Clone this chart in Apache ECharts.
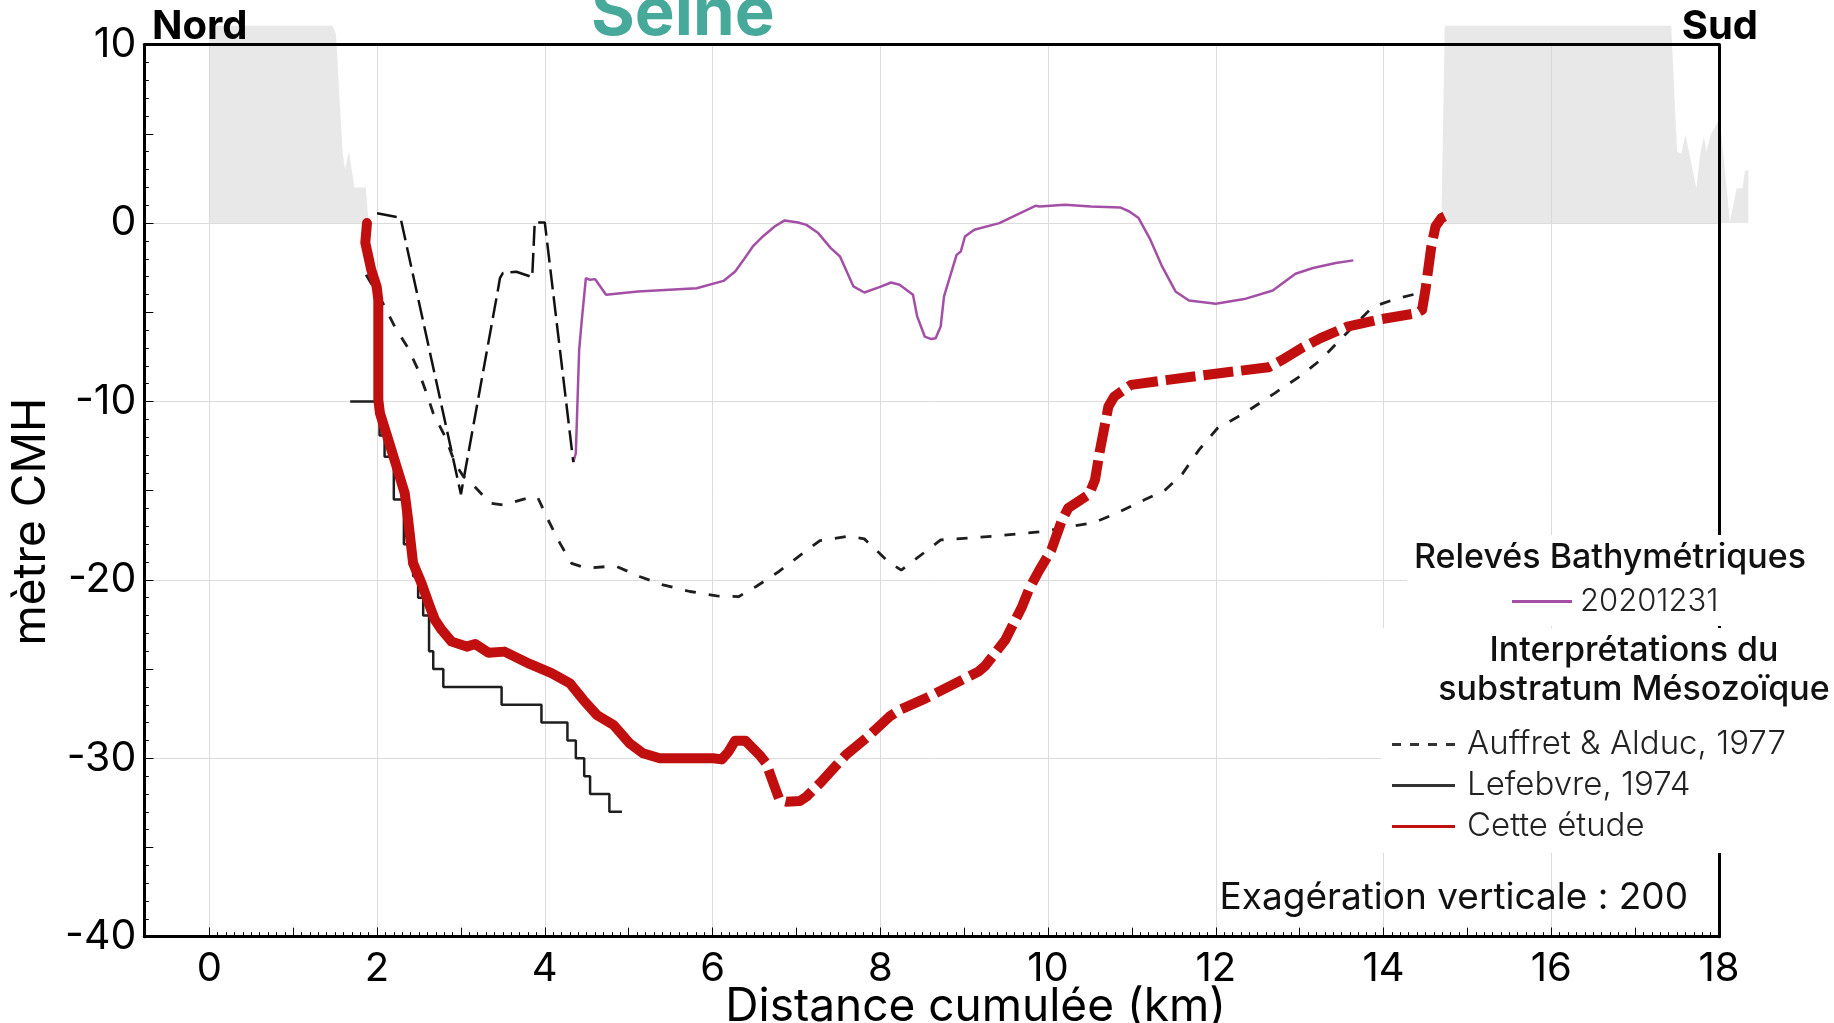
<!DOCTYPE html>
<html>
<head>
<meta charset="utf-8">
<script src="https://cdn.jsdelivr.net/npm/echarts@6/dist/echarts.min.js"></script>
<style>
  html, body { margin: 0; padding: 0; background: #fff; }
  #chart { width: 1834px; height: 1023px; }
</style>
</head>
<body>
<div id="chart"></div>
<script>
// ---- Profile data (distance in km, elevation in m CMH) ----

// Land surface above the river banks (grey)
const landNord = [[0, 11.06], [1.47, 11.06], [1.51, 10.6], [1.59, 3.9], [1.62, 3.0], [1.665, 4.0],
  [1.73, 2.0], [1.865, 2.0], [1.9, 0]];
const landSud = [[14.69, 0], [14.73, 11.06], [17.43, 11.06], [17.5, 4.0], [17.55, 3.9], [17.6, 4.95],
  [17.73, 1.96], [17.78, 4.0], [17.82, 4.86], [17.85, 4.0], [17.9, 4.95], [18.01, 5.88], [18.13, 0.07],
  [18.21, 1.96], [18.28, 1.96], [18.31, 2.95], [18.35, 2.95], [18.35, 0]];

// Bathymetric survey 2020-12-31
const releve20201231 = [[4.34, -13.4], [4.37, -12.9], [4.41, -7.1], [4.44, -5.5], [4.49, -3.09], [4.54, -3.18],
  [4.60, -3.14], [4.62, -3.27], [4.73, -4.02], [5.11, -3.83], [5.81, -3.65], [6.13, -3.24], [6.27, -2.71],
  [6.37, -2.06], [6.48, -1.31], [6.60, -0.75], [6.74, -0.19], [6.86, 0.15], [7.02, 0.03], [7.12, -0.10],
  [7.26, -0.56], [7.41, -1.40], [7.52, -1.87], [7.68, -3.55], [7.81, -3.89], [7.99, -3.59], [8.13, -3.33],
  [8.23, -3.46], [8.39, -4.02], [8.44, -5.23], [8.53, -6.36], [8.61, -6.5], [8.66, -6.45], [8.72, -5.8],
  [8.76, -4.11], [8.91, -1.78], [8.96, -1.59], [9.01, -0.75], [9.12, -0.37], [9.42, 0.0], [9.60, 0.41],
  [9.85, 0.97], [9.90, 0.93], [10.20, 1.03], [10.51, 0.93], [10.86, 0.88], [10.97, 0.65], [11.08, 0.28],
  [11.22, -0.93], [11.36, -2.43], [11.52, -3.83], [11.68, -4.34], [12.00, -4.52], [12.34, -4.26],
  [12.68, -3.78], [12.95, -2.84], [13.16, -2.52], [13.43, -2.24], [13.64, -2.09]];

// Northern channel bed, long dashes
const chenalNord = [[2.0, 0.55], [2.28, 0.3], [3.0, -15.2], [3.445, -3.65], [3.465, -3.09], [3.5, -2.8],
  [3.66, -2.73], [3.85, -3.03], [3.88, 0.04], [4.0, 0.04], [4.34, -13.4]];

// Mesozoic substratum interpretations
const auffretAlduc1977 = [[1.87, -2.9], [2.07, -4.49], [2.21, -5.8], [2.37, -7.01], [2.49, -8.23], [2.59, -9.54],
  [2.67, -10.66], [2.81, -11.96], [2.93, -13.46], [3.03, -14.21], [3.11, -14.5], [3.35, -15.7], [3.50, -15.8],
  [3.86, -15.33], [3.92, -15.42], [4.04, -16.64], [4.18, -17.94], [4.32, -19.07], [4.50, -19.35], [4.84, -19.21],
  [5.13, -19.81], [5.41, -20.28], [5.73, -20.65], [6.05, -20.90], [6.31, -20.94], [6.52, -20.37], [6.80, -19.5],
  [7.08, -18.5], [7.28, -17.8], [7.63, -17.55], [7.81, -17.7], [8.10, -19.0], [8.25, -19.45], [8.54, -18.41],
  [8.72, -17.76], [9.35, -17.55], [9.93, -17.29], [10.26, -17.01], [10.54, -16.8], [10.82, -16.26],
  [11.15, -15.51], [11.40, -14.95], [11.60, -14.07], [11.80, -12.71], [12.02, -11.5], [12.34, -10.66],
  [12.70, -9.54], [13.0, -8.6], [13.25, -7.67], [13.47, -6.6], [13.87, -4.7], [14.17, -4.21], [14.45, -3.9]];

// Step profile: each point gives the depth reached at that distance
const lefebvre1974 = [[1.68, -10], [2.03, -11.9], [2.09, -13.1], [2.2, -15.5], [2.32, -18], [2.43, -19.8],
  [2.49, -21], [2.55, -22], [2.62, -24], [2.67, -25], [2.79, -26], [3.485, -27], [3.96, -28], [4.27, -29],
  [4.37, -30], [4.47, -31], [4.54, -32], [4.77, -33], [4.92, -33]];

// This study: constrained part (solid) and extrapolated part (dashed)
const cetteEtudeSure = [[1.88, 0.0], [1.86, -1.1], [1.93, -2.6], [1.995, -3.55], [2.015, -4.3], [2.015, -9.9],
  [2.035, -10.66], [2.134, -12.15], [2.233, -13.65], [2.33, -15.14], [2.37, -16.6], [2.43, -19.07],
  [2.53, -20.19], [2.63, -21.5], [2.69, -22.24], [2.77, -22.8], [2.89, -23.46], [3.07, -23.74], [3.17, -23.59],
  [3.33, -24.08], [3.52, -24.02], [3.82, -24.71], [4.08, -25.23], [4.30, -25.8], [4.46, -26.73], [4.62, -27.57],
  [4.82, -28.13], [5.01, -29.16], [5.17, -29.72], [5.37, -30.0], [6.01, -30.0], [6.11, -30.06], [6.19, -29.63],
  [6.27, -29.01], [6.39, -29.01]];
const cetteEtudeSupposee = [[6.39, -29.01], [6.56, -29.81], [6.64, -30.28], [6.74, -31.59], [6.80, -32.34],
  [6.88, -32.43], [7.04, -32.4], [7.12, -32.15], [7.28, -31.4], [7.59, -29.81], [7.85, -28.8], [8.11, -27.66],
  [8.23, -27.29], [8.54, -26.64], [9.17, -25.14], [9.25, -24.82], [9.49, -23.37], [9.69, -21.5], [9.77, -20.56],
  [9.89, -19.5], [10.04, -18.32], [10.16, -16.73], [10.24, -15.98], [10.49, -15.2], [10.56, -14.39],
  [10.62, -12.71], [10.72, -10.28], [10.79, -9.72], [10.99, -9.07], [11.43, -8.79], [11.88, -8.51],
  [12.63, -8.08], [12.79, -7.67], [13.02, -7.01], [13.25, -6.45], [13.57, -5.80], [13.93, -5.42],
  [14.39, -5.05], [14.46, -4.86], [14.50, -3.74], [14.57, -1.31], [14.62, -0.19], [14.69, 0.28], [14.73, 0.37]];

// Axis ticks
const kmLabels = [0, 2, 4, 6, 8, 10, 12, 14, 16, 18];
const kmTicks = [0, 1, 2, 3, 4, 5, 6, 7, 8, 9, 10, 11, 12, 13, 14, 15, 16, 17, 18];
const kmMinorTicks = [];
for (let i = 0; i <= 180; i++) kmMinorTicks.push(i / 10);

const X_MIN = -0.775, X_MAX = 18, Y_MIN = -40, Y_MAX = 10;
const FONT = 'Inter, "Noto Sans", sans-serif';
const RED = '#c10f10';
const PURPLE = '#a34fa5';
const INK = '#1e1e1e';
const GRID = '#dcdcdc';
const LAND = 'rgba(214,214,214,0.55)';

const hiddenX = (extra) => Object.assign({
  type: 'value', min: X_MIN, max: X_MAX, position: 'bottom',
  axisLine: { show: false, onZero: false },
  axisLabel: { show: false }, splitLine: { show: false }
}, extra);

// Land polygon closed on the 0 m level, may overflow the plot frame
const landSeries = (name, profile) => ({
  name, type: 'custom', coordinateSystem: 'cartesian2d', clip: false, silent: true, z: 1,
  data: [profile[0]],
  renderItem: (params, api) => {
    const pts = [[profile[0][0], 0]].concat(profile, [[profile[profile.length - 1][0], 0]]);
    return { type: 'polygon', shape: { points: pts.map(p => api.coord(p)) }, style: { fill: LAND } };
  }
});

const chart = echarts.init(document.getElementById('chart'), null, { renderer: 'canvas' });

chart.setOption({
  animation: false,
  backgroundColor: '#fff',
  title: {
    text: 'Seine', left: 591, top: -19, padding: 0,
    textStyle: { color: '#46a99a', fontSize: 67, fontWeight: 'bold', fontFamily: FONT }
  },
  grid: { left: 144.3, right: 115, top: 44.7, bottom: 86.3, containLabel: false, outerBoundsMode: 'none' },
  xAxis: [
    {
      type: 'value', min: X_MIN, max: X_MAX, position: 'bottom',
      axisLine: { onZero: false, lineStyle: { color: '#000', width: 3 } },
      axisTick: { inside: true, length: 9, customValues: kmLabels, lineStyle: { color: '#000', width: 1 } },
      axisLabel: { customValues: kmLabels, color: '#000', fontSize: 40, fontFamily: FONT, margin: 12 },
      splitLine: { show: true, lineStyle: { color: GRID, width: 1 } },
      name: 'Distance cumulée (km)', nameLocation: 'middle', nameGap: 47, nameMoveOverlap: false,
      nameTextStyle: { color: '#000', fontSize: 46, fontFamily: FONT, padding: [0, 0, 0, 88] }
    },
    hiddenX({ axisTick: { inside: true, length: 9, customValues: kmTicks, lineStyle: { color: '#000', width: 1 } } }),
    hiddenX({ axisTick: { inside: true, length: 4.5, customValues: kmMinorTicks, lineStyle: { color: '#000', width: 1 } } }),
    hiddenX({ position: 'top', z: 10, axisLine: { show: true, onZero: false, lineStyle: { color: '#000', width: 3 } }, axisTick: { show: false } })
  ],
  yAxis: [
    {
      type: 'value', min: Y_MIN, max: Y_MAX, interval: 10, position: 'left',
      axisLine: { onZero: false, lineStyle: { color: '#000', width: 3 } },
      axisTick: { inside: true, length: 9, lineStyle: { color: '#000', width: 1 } },
      minorTick: { show: true, splitNumber: 10, length: 4.5, lineStyle: { color: '#000', width: 1 } },
      axisLabel: { color: '#000', fontSize: 41, fontFamily: FONT, margin: 8 },
      splitLine: { show: true, lineStyle: { color: GRID, width: 1 } },
      name: 'mètre CMH', nameLocation: 'middle', nameGap: 78,
      nameTextStyle: { color: '#000', fontSize: 46, fontFamily: FONT, padding: [0, 62, 0, 0] }
    },
    {
      type: 'value', min: Y_MIN, max: Y_MAX, interval: 5, position: 'left',
      axisLine: { show: false, onZero: false },
      axisTick: { inside: true, length: 9, lineStyle: { color: '#000', width: 1 } },
      axisLabel: { show: false }, splitLine: { show: false }
    },
    {
      type: 'value', min: Y_MIN, max: Y_MAX, position: 'right', z: 10,
      axisLine: { onZero: false, lineStyle: { color: '#000', width: 3 } },
      axisTick: { show: false }, axisLabel: { show: false }, splitLine: { show: false }
    }
  ],
  legend: [
    {
      z: 60, left: 1512, top: 586, padding: 0, selectedMode: false,
      itemWidth: 60, itemHeight: 3,
      textStyle: { color: '#222', fontSize: 31, fontWeight: 300, fontFamily: FONT, padding: [0, 0, 0, 3] },
      data: [{ name: '20201231', icon: 'rect', itemStyle: { color: PURPLE, borderWidth: 0 } }]
    },
    {
      z: 60, left: 1392, top: 728, padding: 0, orient: 'vertical', itemGap: 8, selectedMode: false,
      itemWidth: 63, itemHeight: 3,
      textStyle: { color: '#222', fontSize: 33, fontWeight: 300, fontFamily: FONT, padding: [0, 0, 0, 7] },
      data: [
        { name: 'Auffret & Alduc, 1977', icon: 'path://M0,0h9v3h-9z M18,0h9v3h-9z M36,0h9v3h-9z M54,0h9v3h-9z', itemStyle: { color: '#333', borderWidth: 0 } },
        { name: 'Lefebvre, 1974', icon: 'rect', itemStyle: { color: '#333', borderWidth: 0 } },
        { name: 'Cette étude', icon: 'rect', itemStyle: { color: RED, borderWidth: 0 } }
      ]
    }
  ],
  graphic: [
    { type: 'rect', z: 50, silent: true, shape: { x: 1407, y: 535, width: 427, height: 91 }, style: { fill: '#fff' } },
    { type: 'rect', z: 50, silent: true, shape: { x: 1381, y: 628, width: 453, height: 225 }, style: { fill: '#fff' } },
    { type: 'text', z: 60, silent: true, x: 1610, y: 558,
      style: { text: 'Relevés Bathymétriques', align: 'center', verticalAlign: 'middle', fill: '#111', font: '500 34px ' + FONT } },
    { type: 'text', z: 60, silent: true, x: 1634, y: 670,
      style: { text: 'Interprétations du\nsubstratum Mésozoïque', align: 'center', verticalAlign: 'middle', lineHeight: 39, fill: '#111', font: '500 34px ' + FONT } },
    { type: 'text', z: 60, silent: true, x: 152, y: 27,
      style: { text: 'Nord', align: 'left', verticalAlign: 'middle', fill: '#000', font: 'bold 40px ' + FONT } },
    { type: 'text', z: 60, silent: true, x: 1758, y: 27,
      style: { text: 'Sud', align: 'right', verticalAlign: 'middle', fill: '#000', font: 'bold 40px ' + FONT } },
    { type: 'text', z: 60, silent: true, x: 1688, y: 898,
      style: { text: 'Exagération verticale : 200', align: 'right', verticalAlign: 'middle', fill: '#111', font: '400 37px ' + FONT } }
  ],
  series: [
    landSeries('Relief Nord', landNord),
    landSeries('Relief Sud', landSud),
    {
      name: '20201231', type: 'line', data: releve20201231, symbol: 'none',
      lineStyle: { color: PURPLE, width: 2.5 }, itemStyle: { color: PURPLE }
    },
    {
      name: 'Chenal nord', type: 'line', data: chenalNord, symbol: 'none',
      lineStyle: { color: '#111', width: 2.5, type: [20, 7] }, itemStyle: { color: '#111' }
    },
    {
      name: 'Auffret & Alduc, 1977', type: 'line', data: auffretAlduc1977, symbol: 'none',
      lineStyle: { color: INK, width: 2.8, type: [11, 13] }, itemStyle: { color: INK }
    },
    {
      name: 'Lefebvre, 1974', type: 'line', data: lefebvre1974, step: 'end', symbol: 'none',
      lineStyle: { color: INK, width: 2.5 }, itemStyle: { color: INK }
    },
    {
      name: 'Cette étude', type: 'line', data: cetteEtudeSure, symbol: 'none', z: 3,
      lineStyle: { color: RED, width: 10, join: 'round', cap: 'round' }, itemStyle: { color: RED }
    },
    {
      name: 'Cette étude', type: 'line', data: cetteEtudeSupposee, symbol: 'none', z: 3,
      lineStyle: { color: RED, width: 10, type: [30, 8], join: 'round', cap: 'butt' }, itemStyle: { color: RED }
    }
  ]
});
</script>
</body>
</html>
